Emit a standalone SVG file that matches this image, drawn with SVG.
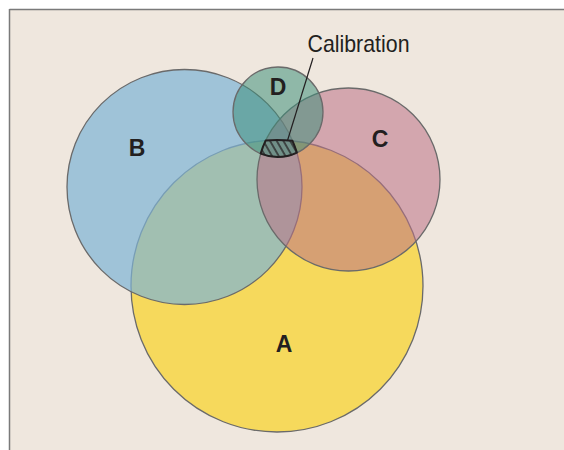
<svg xmlns="http://www.w3.org/2000/svg" width="564" height="450" viewBox="0 0 564 450">
  <style>
    .ring { stroke: #6a6a6a; stroke-width: 1.3; }
    .lbl { font-family: "Liberation Sans", Arial, sans-serif; font-weight: bold; font-size: 23px; fill: #231f20; text-anchor: middle; }
    .callout { font-family: "Liberation Sans", Arial, sans-serif; font-size: 24px; fill: #231f20; }
  </style>
  <defs>
    <pattern id="hatch" patternUnits="userSpaceOnUse" width="5.8" height="8" patternTransform="rotate(-30)">
      <line x1="1" y1="0" x2="1" y2="8" stroke="#231f20" stroke-width="1.3"/>
    </pattern>
  </defs>
  <rect x="0" y="0" width="564" height="450" fill="#ffffff"/>
  <rect x="9.5" y="10" width="560" height="450" fill="#efe7de"/>
  <line x1="9.5" y1="9.5" x2="564" y2="9.5" stroke="#7a7a7a" stroke-width="1.5"/>
  <line x1="9.5" y1="9" x2="9.5" y2="450" stroke="#7a7a7a" stroke-width="1.5"/>

  <g id="node-A">
    <circle class="ring" cx="277" cy="286" r="146" fill="#f6d95c"/>
    <text class="lbl" x="284" y="352">A</text>
  </g>
  <g id="node-B">
    <circle class="ring" cx="184.5" cy="187" r="117.5" fill="#7eb4d5" fill-opacity="0.7"/>
    <text class="lbl" x="137" y="156">B</text>
  </g>
  <g id="node-C">
    <circle class="ring" cx="348.5" cy="179.5" r="91.5" fill="#bc7187" fill-opacity="0.55"/>
    <text class="lbl" x="380" y="147">C</text>
  </g>
  <g id="node-D">
    <circle class="ring" cx="278" cy="112" r="45" fill="#3a8e78" fill-opacity="0.53"/>
    <text class="lbl" x="278" y="95">D</text>
  </g>
  <g id="node-calibration">
    <path d="M265.7,140.4 A146,146 0 0,1 292.5,140.8 A117.5,117.5 0 0,1 296.9,152.6 A45,45 0 0,1 260.7,153.6 A91.5,91.5 0 0,1 265.7,140.4 Z" fill="url(#hatch)" stroke="#231f20" stroke-width="2" stroke-linejoin="round"/>
    <text class="callout" x="307.5" y="52" textLength="102" lengthAdjust="spacingAndGlyphs">Calibration</text>
  </g>
  <g id="connectors">
    <line x1="313" y1="58" x2="287.5" y2="140.5" stroke="#231f20" stroke-width="1.2"/>
  </g>
</svg>
